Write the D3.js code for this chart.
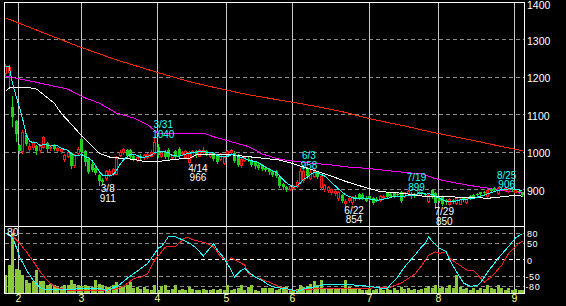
<!DOCTYPE html>
<html>
<head>
<meta charset="utf-8">
<script src="https://cdn.jsdelivr.net/npm/d3@7"></script>
<style>
  body { margin: 0; background: #000; }
  svg { display: block; font-family: "Liberation Sans", Arial, sans-serif; }
</style>
</head>
<body>
<svg id="chart" width="566" height="306"></svg>
<script>
// daily candles, 2022/1/26 .. 2022/9/5 (trading-day index)
const openP = [1211,1214,1120,1081,1018,1001,1045,1008,1012,1016,1005,1012,1023,1010,1018,1006,1002,981,988,996,
  966,996,1034,1002,980,968,958,938,925,930,938,942,942,992,999,1005,1005,988,978,989,
  985,986,990,996,1012,990,1000,1005,985,1002,1008,996,986,972,990,1002,990,1000,1003,988,
  997,990,980,970,995,1000,998,990,964,978,982,978,972,966,964,958,954,945,950,934,
  915,905,900,903,908,920,925,955,930,935,948,905,900,898,892,890,876,885,864,872,
  865,880,888,885,878,882,878,875,872,880,890,888,891,888,892,882,890,888,886,886,
  892,888,870,898,890,878,881,872,862,872,864,862,878,866,882,886,888,892,892,882,
  902,904,890,902,897,896,900,894,896,892];
const highP = [1233,1232,1149,1086,1022,1058,1049,1024,1030,1019,1020,1042,1027,1018,1022,1014,1010,995,1002,999,
  994,1012,1040,1005,987,972,962,942,930,952,955,958,988,1005,1010,1008,1008,992,990,993,
  995,996,1004,1040,1020,1002,1004,1009,995,1006,1012,1003,1006,1003,1006,1005,1008,1012,1006,1000,
  1000,993,996,990,1006,1008,1001,993,985,990,988,982,976,970,968,962,958,950,952,936,
  918,908,912,912,925,958,955,957,952,953,950,938,915,908,903,898,895,888,874,880,
  882,884,890,889,882,885,880,880,885,884,893,890,894,892,895,894,899,892,890,898,
  894,891,888,899,892,882,883,875,876,875,878,876,880,880,884,888,890,894,895,901,
  904,905,906,904,905,904,902,900,899,894];
const lowP = [1205,1176,1069,1030,996,998,1018,1000,1008,994,1000,1010,1002,1005,1004,1002,998,976,985,958,
  960,993,998,965,943,950,940,911,915,925,935,938,940,988,995,985,982,978,975,980,
  982,983,988,993,986,987,983,980,982,983,986,993,983,966,987,987,988,997,992,985,
  978,970,977,968,992,996,972,962,960,975,976,963,958,955,952,948,942,935,932,905,
  900,896,898,900,905,918,920,930,928,932,930,902,895,892,888,886,872,866,854,866,
  862,872,875,874,868,871,862,868,870,876,877,880,880,882,865,880,886,878,880,884,
  884,882,866,876,850,866,858,862,858,864,860,860,868,863,875,878,882,886,888,880,
  893,896,888,897,895,893,896,892,890,882];
const closeP = [1229,1226,1092,1048,1001,1054,1022,1016,1027,1001,1015,1039,1007,1014,1008,1011,1008,992,999,963,
  991,1008,1000,972,946,952,944,922,920,948,950,953,983,1000,1007,990,986,982,987,983,
  991,993,1000,1025,991,998,985,986,992,986,990,1000,1003,1000,1002,991,1005,1004,994,998,
  980,974,994,986,1003,1004,975,966,980,986,980,966,961,958,955,952,945,938,935,908,
  905,899,908,909,920,950,948,935,947,950,932,935,912,905,900,895,892,870,870,878,
  879,875,877,876,870,873,864,870,882,881,879,882,883,885,868,892,895,884,883,897,
  887,885,886,879,863,870,861,866,874,868,876,874,871,878,879,880,884,888,890,899,
  896,898,904,899,903,901,898,898,893,886];
const volume = [21,34,70,29,28,22,16,12,14,27,14,14,10,11,10,8,7,9,10,16,
  11,10,8,9,8,7,16,11,9,7,7,10,13,8,7,10,13,6,7,5,
  7,5,4,9,4,8,10,4,5,9,4,5,4,7,5,4,4,5,3,4,
  5,4,5,3,9,4,5,6,9,4,7,9,4,2,6,6,6,6,4,5,
  7,7,4,3,5,10,7,8,11,14,10,16,6,5,5,5,6,5,15,7,
  6,5,6,4,4,6,4,5,7,4,5,4,6,4,7,5,6,4,5,4,
  5,6,8,6,9,6,7,6,9,6,22,7,5,6,4,6,4,6,5,10,
  6,5,9,6,4,6,4,5,3,4];

// moving averages (day index, price)
const ma25Idx = [0,1,3,7,9,11,14,16,19,21,24,27,30,33,37,40,44,49,53,55,65,70,74,79,83,89,94,98,104,108,115,120,124,134,139,143,146,149];
const ma25Val = [1161,1170,1172,1171,1167,1152,1130,1103,1073,1052,1024,996,986,983,980,974,974,980,983,992,992,987,983,978,968,950,935,921,904,894,889,882,880,879,876,880,883,882];
const ma75Idx = [0,8,18,22,27,32,37,41,43,44,57,60,65,70,74,79,84,89,94,98,104,110,115,120,124,129,134,139,143,147,149];
const ma75Val = [1202,1187,1167,1147,1130,1103,1090,1072,1056,1050,1050,1040,1027,1014,994,980,974,969,965,960,956,950,945,941,928,918,910,903,896,894,891];
const ma200Idx = [0,21,32,44,53,60,70,79,89,98,105,115,124,134,143,149];
const ma200Val = [1357,1281,1245,1211,1187,1172,1152,1138,1122,1105,1088,1069,1050,1032,1014,1003];

// oscillator (RCI) short / long
const rciSIdx = [0,1,2,3,4,5,6,7,8,9,10,11,14,16,18,20,21,23,27,29,30,31,33,35,37,39,41,43,44,45,46,47,49,51,53,55,57,58,60,61,63,65,66,68,69,70,72,74,76,78,81,84,87,90,92,98,102,105,108,110,111,113,115,118,120,121,122,123,125,127,128,130,132,134,136,137,139,142,145,147,149];
const rciSVal = [78,75,65,39,8,-12,-33,-48,-64,-76,-86,-90,-90,-92,-92,-90,-88,-88,-89,-94,-92,-86,-76,-58,-43,-28,-12,18,34,39,54,70,68,59,49,34,10,23,47,29,3,-33,-54,-33,-28,-38,-54,-64,-79,-86,-89,-97,-86,-82,-76,-76,-79,-82,-87,-89,-76,-54,-23,13,39,49,68,54,34,23,-2,-38,-72,-82,-79,-69,-38,3,39,65,78];
const rciLIdx = [0,2,4,6,8,10,12,14,16,18,21,25,29,31,33,35,37,39,41,43,45,46,49,52,54,58,60,62,64,65,67,69,70,73,76,79,82,84,89,94,98,103,108,111,114,116,118,120,122,124,125,127,128,130,133,135,137,138,140,143,145,148,149];
const rciLVal = [78,70,49,23,-7,-38,-64,-82,-89,-94,-94,-94,-94,-92,-86,-74,-58,-54,-43,-2,23,37,39,68,59,49,37,8,-7,5,-7,-18,-43,-58,-69,-84,-94,-94,-90,-88,-88,-88,-86,-84,-72,-58,-45,-18,13,23,18,23,3,-12,-33,-35,-58,-69,-54,-18,18,49,54];

const monthLabels = ["2","3","4","5","6","7","8","9"];
const monthStart = [4,22,44,64,83,105,125,147];

const markDate = ["3/8","3/31","4/14","6/3","6/22","7/19","7/29","8/25"];
const markIdx = [27,43,53,85,98,116,124,142];
const markKind = ["low","high","low","high","low","high","low","high"];

const priceTicks = [900,1000,1100,1200,1300,1400];
const oscTicks = [80,50,0,-50,-80];
const volMax = 80;

const UP = "#ff1a1a", DOWN = "#1fd01f";

const svg = d3.select("#chart");
svg.append("rect").attr("width", 566).attr("height", 306).attr("fill", "#000");

const L = 4.5, R = 524.5, T = 2.5, MID = 226.5, B = 293.5;

var x = d3.scaleLinear().domain([0, 149]).range([5.6, 522.5]);
var y = d3.scaleLinear().domain([800, 1400]).range([226.8, 1.8]);
var yo = d3.scaleLinear().domain([-100, 100]).range([292.3, 226.3]);
var yv = d3.scaleLinear().domain([0, volMax]).range([293, 226]);

const px = v => Math.round(v) + 0.5;

// clip areas
const defs = svg.append("defs");
defs.append("clipPath").attr("id", "clipTop").append("rect")
  .attr("x", 5).attr("y", 3).attr("width", 519).attr("height", 223);
defs.append("clipPath").attr("id", "clipBot").append("rect")
  .attr("x", 5).attr("y", 227).attr("width", 519).attr("height", 66);

const grid = svg.append("g").attr("shape-rendering", "crispEdges");

// horizontal dashed grid, price panel
grid.selectAll(".hp").data(priceTicks.filter(d => d < 1400)).enter().append("line")
  .attr("x1", L).attr("x2", R)
  .attr("y1", d => px(y(d))).attr("y2", d => px(y(d)))
  .attr("stroke", "#8c8c8c").attr("stroke-dasharray", "4,3");

// horizontal dashed grid, oscillator panel
grid.selectAll(".ho").data(oscTicks).enter().append("line")
  .attr("x1", L).attr("x2", R)
  .attr("y1", d => px(yo(d))).attr("y2", d => px(yo(d)))
  .attr("stroke", d => d === 0 ? "#ffffff" : "#8c8c8c")
  .attr("stroke-dasharray", "4,3");

// month lines
grid.selectAll(".vm").data(monthStart).enter().append("line")
  .attr("x1", d => px(x(d) - 1.2)).attr("x2", d => px(x(d) - 1.2))
  .attr("y1", T).attr("y2", B)
  .attr("stroke", "#c8c8c8");

// volume bars
const lower = svg.append("g").attr("clip-path", "url(#clipBot)").attr("shape-rendering", "crispEdges");
lower.selectAll(".vol").data(volume).enter().append("rect")
  .attr("x", (d, i) => Math.round(x(i) - 1.5))
  .attr("width", 3)
  .attr("y", d => Math.round(yv(d)))
  .attr("height", d => 293 - Math.round(yv(d)))
  .attr("fill", "#8cc83c");

// oscillator lines
const oscLine = d3.line().x(d => x(d[0])).y(d => yo(d[1]));
lower.append("path").datum(d3.zip(rciLIdx, rciLVal)).attr("d", oscLine)
  .attr("fill", "none").attr("stroke", "#ff2020").attr("stroke-width", 1);
lower.append("path").datum(d3.zip(rciSIdx, rciSVal)).attr("d", oscLine)
  .attr("fill", "none").attr("stroke", "#22ffff").attr("stroke-width", 1);

// price panel
const upper = svg.append("g").attr("clip-path", "url(#clipTop)").attr("shape-rendering", "crispEdges");
const priceLine = d3.line().x(d => x(d[0])).y(d => y(d[1]));

upper.append("path").datum(d3.zip(ma200Idx, ma200Val)).attr("d", priceLine)
  .attr("fill", "none").attr("stroke", "#ff2a00");
upper.append("path").datum(d3.zip(ma75Idx, ma75Val)).attr("d", priceLine)
  .attr("fill", "none").attr("stroke", "#ff00ff");

const candles = d3.range(closeP.length).map(i => ({
  i: i, o: openP[i], h: highP[i], l: lowP[i], c: closeP[i]
}));

const cg = upper.selectAll(".candle").data(candles).enter().append("g");
cg.append("line")
  .attr("x1", d => Math.round(x(d.i) - 1.5) + 1.5)
  .attr("x2", d => Math.round(x(d.i) - 1.5) + 1.5)
  .attr("y1", d => Math.round(y(d.h)))
  .attr("y2", d => Math.round(y(d.l)) + 1)
  .attr("stroke", d => d.c >= d.o ? UP : DOWN);
cg.each(function(d) {
  const g = d3.select(this);
  const left = Math.round(x(d.i) - 1.5);
  const yTop = Math.round(y(Math.max(d.o, d.c)));
  const yBot = Math.round(y(Math.min(d.o, d.c)));
  if (d.c >= d.o) {
    g.append("rect").attr("x", left + 0.5).attr("y", yTop + 0.5)
      .attr("width", 2).attr("height", Math.max(yBot - yTop, 0.01))
      .attr("fill", "#000").attr("stroke", UP);
  } else {
    g.append("rect").attr("x", left).attr("y", yTop)
      .attr("width", 3).attr("height", Math.max(yBot - yTop, 1))
      .attr("fill", DOWN);
  }
});

// 5 day average of the closes, plus the 25 day line
const ma5 = closeP.map((c, i) => [i, d3.mean(closeP.slice(Math.max(0, i - 4), i + 1))]);
upper.append("path").datum(d3.zip(ma25Idx, ma25Val)).attr("d", priceLine)
  .attr("fill", "none").attr("stroke", "#ffffff");
upper.append("path").datum(ma5).attr("d", priceLine)
  .attr("fill", "none").attr("stroke", "#22ffff");

// frame
svg.append("path")
  .attr("d", `M${L},${T}H${R}V${B}H${L}Z M${L},${MID}H${R}`)
  .attr("fill", "none").attr("stroke", "#ffffff").attr("shape-rendering", "crispEdges");

// high / low marks
const marks = markIdx.map((idx, k) => ({
  idx: idx, date: markDate[k], kind: markKind[k],
  price: markKind[k] === "high" ? highP[idx] : lowP[idx]
}));
const mg = svg.selectAll(".mark").data(marks).enter().append("g")
  .attr("font-size", "10px").attr("text-anchor", "middle")
  .attr("fill", d => d.kind === "high" ? "#22ffff" : "#ffffff");
mg.append("text").attr("x", d => x(d.idx) + 8.5)
  .attr("y", d => d.kind === "high" ? y(d.price) - 8.5 : y(d.price) + 7)
  .text(d => d.date);
mg.append("text").attr("x", d => x(d.idx) + 8.5)
  .attr("y", d => d.kind === "high" ? y(d.price) + 1 : y(d.price) + 16.5)
  .text(d => d.price);

// axis labels
svg.selectAll(".pl").data(priceTicks).enter().append("text")
  .attr("x", 527).attr("y", d => Math.max(y(d) + 5.6, 9))
  .attr("font-size", "10.5px").attr("fill", "#fff").text(d => d);
svg.selectAll(".ol").data(oscTicks).enter().append("text")
  .attr("x", d => d < 0 ? 525.5 : 527).attr("y", d => yo(d) + 4.2)
  .attr("font-size", "9px").attr("letter-spacing", "0.6px")
  .attr("fill", "#fff").text(d => d);
svg.append("text").attr("x", 7).attr("y", 235.6)
  .attr("font-size", "10.5px").attr("fill", "#fff").text(volMax);
svg.selectAll(".ml").data(monthStart).enter().append("text")
  .attr("x", d => Math.round(x(d) - 1.2) + 0.5).attr("y", 302)
  .attr("text-anchor", "middle").attr("font-size", "10.5px").attr("fill", "#ffff99")
  .text((d, k) => monthLabels[k]);
</script>
</body>
</html>
